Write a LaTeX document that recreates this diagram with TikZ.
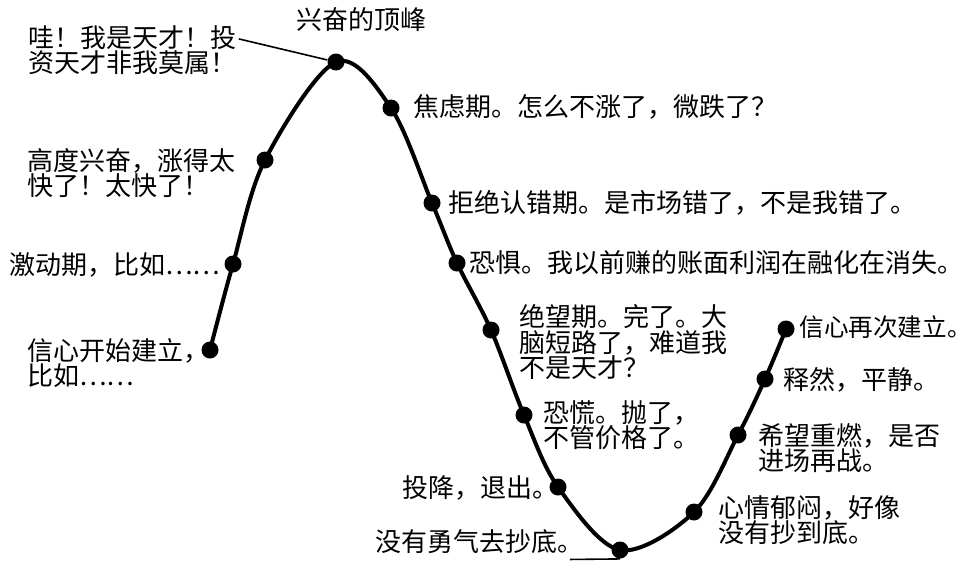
\documentclass[tikz,border=0pt]{standalone}
\usepackage{fontspec}
\newfontfamily\cjk{Noto Sans CJK SC}
\usetikzlibrary{calc, backgrounds}

\begin{document}
\begin{tikzpicture}[
  x=0.5pt, y=-0.5pt,
  every node/.style={font=\cjk\fontsize{13}{12.7}\selectfont, align=left,
    inner sep=0pt},
  dot/.style={circle, fill=black, minimum size=8.5pt},
  note/.style={anchor=west},
  curve/.style={line width=2pt, line cap=round},
  lead/.style={line width=0.8pt},
]
\useasboundingbox (0,0) rectangle (972,570);

% Points on the curve
\node[dot] (p1)  at (210,350) {};
\node[dot] (p2)  at (233,264) {};
\node[dot] (p3)  at (265,160) {};
\node[dot] (p4)  at (336,62)  {};
\node[dot] (p5)  at (391,108) {};
\node[dot] (p6)  at (432,203) {};
\node[dot] (p7)  at (457,263) {};
\node[dot] (p8)  at (491,330) {};
\node[dot] (p9)  at (524,415) {};
\node[dot] (p10) at (558,487) {};
\node[dot] (p11) at (620,550) {};
\node[dot] (p12) at (694,512) {};
\node[dot] (p13) at (738,435) {};
\node[dot] (p14) at (765,379) {};
\node[dot] (p15) at (786,329) {};

% The curve
\begin{scope}[on background layer]
\draw[curve] plot[smooth, tension=0.55] coordinates {
  (p1.center) (p2.center) (p3.center) (p4.center) (p5.center)
  (p6.center) (p7.center) (p8.center) (p9.center) (p10.center)
  (p11.center) (p12.center) (p13.center) (p14.center) (p15.center)};
\end{scope}

% Rising
\node[note] (conf)   at (27,363) {信心开始建立，\\比如……};
\node[note] (excite) at (9,265)   {激动期，比如……};
\node[note] (high)   at (27,173)  {高度兴奋，涨得太\\快了！太快了！};
\node[note] (wow)    at (28,50)   {哇！我是天才！投\\资天才非我莫属！};
\node (peak) at (361,20) {兴奋的顶峰};

% Falling
\node[note] (anx)     at (413,107) {焦虑期。怎么不涨了，微跌了？};
\node[note] (deny)    at (448,203) {拒绝认错期。是市场错了，不是我错了。};
\node[note] (fear)    at (469,263) {恐惧。我以前赚的账面利润在融化在消失。};
\node[note] (despair) at (519,342) {绝望期。完了。大\\脑短路了，难道我\\不是天才？};
\node[note] (panic)   at (543,425) {恐慌。抛了，\\不管价格了。};
\node[note] (give)    at (402,488) {投降，退出。};
\node[note] (nobot)   at (375,542) {没有勇气去抄底。};

% Recovering
\node[note] (gloom) at (718,520) {心情郁闷，好像\\没有抄到底。};
\node[note] (hope)  at (758,448) {希望重燃，是否\\进场再战。};
\node[note] (calm)  at (783,380) {释然，平静。};
\node[note, font=\cjk\fontsize{12.3}{12.3}\selectfont] (again) at (799,327)
  {信心再次建立。};

% Leader lines
\draw[lead] ($(wow.north east)+(2,14)$) -- (p4);
\draw[lead] ($(nobot.south east)+(-14,5)$) -- (p11.south);

\end{tikzpicture}
\end{document}
